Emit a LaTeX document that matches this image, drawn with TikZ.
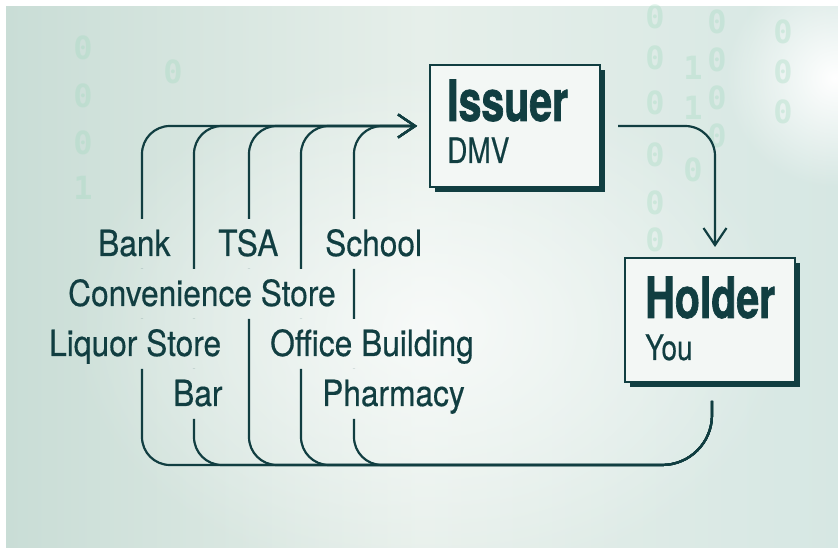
\documentclass[tikz,border=0pt]{standalone}
\usepackage{fontspec}
\usetikzlibrary{arrows.meta,calc,shadows,fadings}
\newfontfamily\lblfont[FakeStretch=0.88, FakeBold=0.4]{TeX Gyre Heros}
\newfontfamily\subfont[FakeStretch=0.8, FakeBold=0.4]{TeX Gyre Heros}
\newfontfamily\hdfont[FakeStretch=0.72, BoldFeatures={FakeBold=1.2}]{TeX Gyre Heros}
\newfontfamily\digfont{DejaVu Sans Mono}
\definecolor{ink}{HTML}{113E41}
\definecolor{bgL}{HTML}{C9DDD6}
\definecolor{bgM}{HTML}{E6EFEA}
\definecolor{bgR}{HTML}{D6E7E3}
\definecolor{boxfill}{HTML}{F3F7F5}
\definecolor{digit}{HTML}{A3DAC0}
\tikzfading[name=softglow, inner color=transparent!0, outer color=transparent!100]
\begin{document}
\begin{tikzpicture}[x=1pt,y=1pt,
  lbl/.style={inner sep=0pt, anchor=base west, text=ink, text height=25.5pt, text depth=0pt,
              font=\lblfont\fontsize{36}{36}\selectfont},
  hd/.style={inner sep=0pt, anchor=base west, text=ink, font=\hdfont\bfseries\fontsize{57}{57}\selectfont},
  sub/.style={inner sep=0pt, anchor=base west, text=ink, font=\subfont\fontsize{35}{35}\selectfont},
  box/.style={draw=ink, line width=2pt, fill=boxfill, minimum width=170pt, minimum height=122pt,
              inner sep=0pt, drop shadow={shadow xshift=5pt, shadow yshift=-5pt, fill=ink, opacity=1}},
  conn/.style={draw=ink, line width=2.2pt},
  tip/.style={-{Straight Barb[length=17pt, width=23pt]}},
  dg/.style={text=digit, text opacity=0.35, font=\digfont\bfseries\fontsize{32}{32}\selectfont, inner sep=0pt}
  ]
\useasboundingbox (0,0) rectangle (838,548);
% background
\fill[white] (0,0) rectangle (838,548);
\shade[left color=bgL, right color=bgR, middle color=bgM] (6,0) rectangle (838,541);
\fill[white, opacity=0.7, path fading=softglow] (430,220) ellipse (360 and 260);
\fill[white, opacity=1, path fading=softglow] (835,470) circle (110);
\foreach \x/\y/\d in {83/500/0, 83/452/0, 83/405/0, 83/360/1, 173/476/0,
                      655/531/0, 655/490/0, 655/445/0, 655/393/0, 655/345/0, 655/308/0,
                      693/480/1, 693/440/1, 693/378/0,
                      717/526/0, 717/488/0, 717/450/0, 717/412/0,
                      783/516/0, 783/476/0, 783/436/0}
  \node[dg] at (\x,\y) {\d};

% boxes
\node[box] (issuer) at (515,422) {};
\node[box, minimum height=124pt] (holder) at (710,228) {};
\node[hd]  (issuerT) at ($(issuer.center)+(-68,5)$) {Issuer};
\node[sub] (issuerS) at ($(issuer.center)+(-68,-37)$) {DMV};
\node[hd]  (holderT) at ($(holder.center)+(-65,2)$) {Holder};
\node[sub] (holderS) at ($(holder.center)+(-65,-40)$) {You};

% labels
\node[lbl] (bank)   at (98,292)  {Bank};
\node[lbl] (tsa)    at (218,292) {TSA};
\node[lbl] (school) at (325,292) {School};
\node[lbl] (conv)   at (68,242)  {Convenience Store};
\node[lbl] (liquor) at (49,192)  {Liquor Store};
\node[lbl] (office) at (270,192) {Office Building};
\node[lbl] (bar)    at (173,142) {Bar};
\node[lbl] (pharm)  at (322,142) {Pharmacy};

% connector end points
\coordinate (hout) at ($(holder.south)+(2,-18)$);
\coordinate (ain)  at ($(issuer.west)+(-12,0)$);
\coordinate (iout) at ($(issuer.east)+(17,0)$);
\coordinate (hin)  at ($(holder.north)+(5,10)$);

% issuer -> holder
\draw[conn, tip] (iout) -- (685,422) to[out=0,in=90] (715,392) -- (hin);

% verifiers: holder -> issuer, broken by the labels
\begin{scope}[even odd rule]
  \clip (0,0) rectangle (838,548)
    ($(bank.base west)+(-5,-13)$) rectangle ($(bank.base east)+(5,37)$)
    ($(tsa.base west)+(-5,-13)$) rectangle ($(tsa.base east)+(5,37)$)
    ($(school.base west)+(-5,-13)$) rectangle ($(school.base east)+(5,37)$)
    ($(conv.base west)+(-5,-13)$) rectangle ($(conv.base east)+(5,37)$)
    ($(liquor.base west)+(-5,-13)$) rectangle ($(liquor.base east)+(5,37)$)
    ($(office.base west)+(-5,-13)$) rectangle ($(office.base east)+(5,37)$)
    ($(bar.base west)+(-5,-13)$) rectangle ($(bar.base east)+(5,37)$)
    ($(pharm.base west)+(-5,-13)$) rectangle ($(pharm.base east)+(5,37)$);
  \foreach \xx in {142,194,249,301,354}{
    \draw[conn, tip] (hout) -- (712,133) to[out=-90,in=0] (662,83)
      -- (\xx+28,83) to[out=180,in=-90] (\xx,111)
      -- (\xx,394) to[out=90,in=180] (\xx+28,422) -- (ain);
  }
\end{scope}
\end{tikzpicture}
\end{document}
